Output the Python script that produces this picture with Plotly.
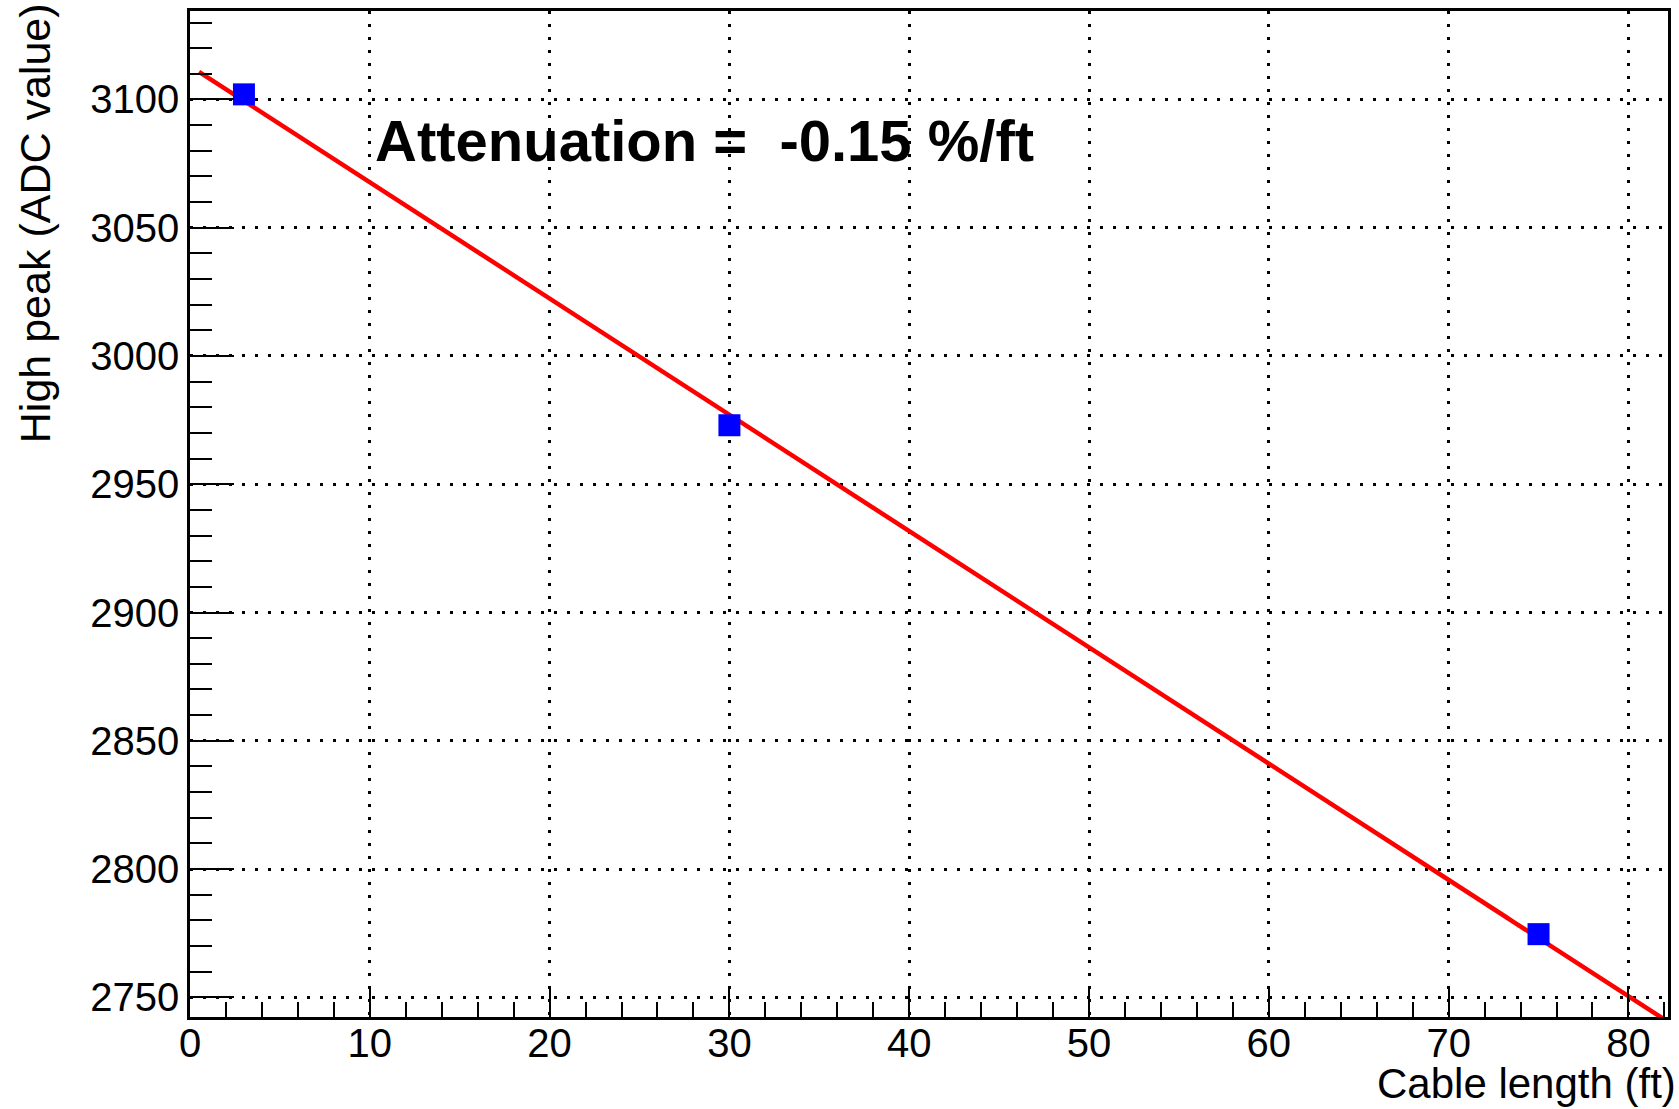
import numpy as np
import plotly.graph_objects as go

# ---- data ----
cable_length_ft = [3, 30, 75]
high_peak_adc = [3102.0, 2973.0, 2774.6]
fit_range_ft = [0.5, 82.2]

x_ticks = [0, 10, 20, 30, 40, 50, 60, 70, 80]
y_ticks = [2750, 2800, 2850, 2900, 2950, 3000, 3050, 3100]

# linear fit
slope, intercept = np.polyfit(cable_length_ft, high_peak_adc, 1)
attenuation_pct = slope / intercept * 100.0
fit_x = np.linspace(fit_range_ft[0], fit_range_ft[1], 200)
fit_y = intercept + slope * fit_x

FONT = "Liberation Sans, Arial, Helvetica, sans-serif"

fig = go.Figure()
fig.add_trace(go.Scatter(x=fit_x, y=fit_y, mode="lines",
                         line=dict(color="#ff0000", width=4.5),
                         hoverinfo="skip", showlegend=False))
fig.add_trace(go.Scatter(x=cable_length_ft, y=high_peak_adc, mode="markers",
                         marker=dict(symbol="square", size=22, color="#0000ff",
                                     line=dict(width=0)),
                         showlegend=False, cliponaxis=False))

axis_common = dict(
    showline=True, linecolor="black", linewidth=2.5, mirror=True,
    ticks="inside", tickcolor="black", tickwidth=2,
    showgrid=True, gridcolor="black", gridwidth=2.5, griddash="3px,10px",
    zeroline=False,
    tickfont=dict(family=FONT, size=40, color="black"),
)

fig.update_xaxes(**axis_common, range=[0, 82.2], tickvals=x_ticks,
                 ticklen=30, ticklabelstandoff=-11,
                 minor=dict(dtick=2, tick0=0, ticklen=15, tickwidth=2,
                            tickcolor="black", ticks="inside", showgrid=False))
fig.update_yaxes(**axis_common, range=[2742.3, 3134.5], tickvals=y_ticks,
                 ticklen=44,
                 minor=dict(dtick=10, tick0=2750, ticklen=22, tickwidth=2,
                            tickcolor="black", ticks="inside", showgrid=False))

fig.add_annotation(text="Attenuation = \u00a0%.2f %%/ft" % attenuation_pct,
                   xref="paper", yref="paper", x=0.124, y=0.871,
                   xanchor="left", yanchor="middle", showarrow=False,
                   font=dict(family=FONT, size=58, color="black", weight="bold"))
fig.add_annotation(text="Cable length (ft)", xref="paper", yref="paper",
                   x=1.006, y=-0.066, xanchor="right", yanchor="middle",
                   showarrow=False, borderpad=0,
                   font=dict(family=FONT, size=42, color="black"))
fig.add_annotation(text="High peak (ADC value)", xref="paper", yref="paper",
                   x=-0.1047, y=1.01, xanchor="center", yanchor="top",
                   textangle=-90, showarrow=False,
                   font=dict(family=FONT, size=43, color="black"))

fig.update_layout(
    width=1679, height=1109,
    margin=dict(l=190, r=8, t=10, b=92),
    paper_bgcolor="white", plot_bgcolor="white",
    showlegend=False,
)

fig.write_html("out.html")
